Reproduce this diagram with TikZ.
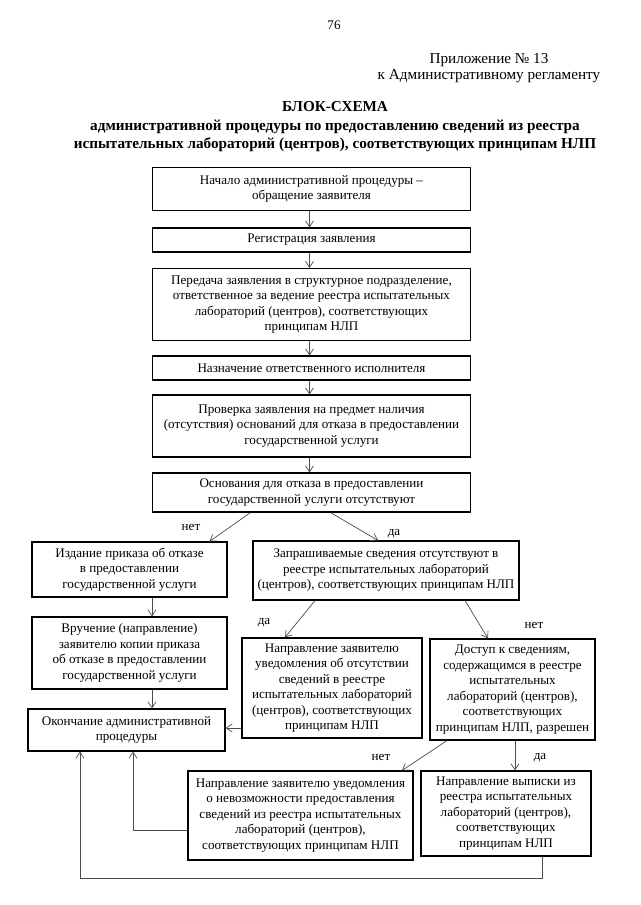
\documentclass[tikz,border=0pt]{standalone}
\usepackage{fontspec}
\setmainfont{Liberation Serif}
\usetikzlibrary{arrows.meta}
\newcommand\bxf{\fontsize{13.1}{15.5}\selectfont}
\newcommand\hdf{\fontsize{15.2}{16.5}\selectfont}
\newcommand\ttf{\fontsize{15.2}{18.5}\selectfont\bfseries}
\tikzset{
  box/.style={draw, line width=1.1pt, align=center, inner sep=0pt, font=\bxf},
  arr/.style={draw=black!70, line width=0.7pt, -{Straight Barb[length=6pt,width=8pt]}},
  lbl/.style={font=\bxf, inner sep=0pt},
}
\begin{document}
\begin{tikzpicture}[x=1pt,y=-1pt]
\useasboundingbox[fill=white] (0,0) rectangle (640,905);
% header
\node[font=\bxf] (pg) at (334,25) {76};
\node[font=\hdf, align=center] (app) at (489,68) {Приложение № 13\\к Административному регламенту};
\node[font=\ttf, align=center] (title) at (335,127) {БЛОК-СХЕМА\\административной процедуры по предоставлению сведений из реестра\\испытательных лабораторий (центров), соответствующих принципам НЛП};
% boxes
\node[box, minimum width=318, minimum height=43] (b1) at (311.5,189) {Начало административной процедуры –\\обращение заявителя};
\node[box, minimum width=318, minimum height=24] (b2) at (311.5,240) {Регистрация заявления};
\node[box, minimum width=318, minimum height=72] (b3) at (311.5,304.5) {Передача заявления в структурное подразделение,\\ответственное за ведение реестра испытательных\\лабораторий (центров), соответствующих\\принципам НЛП};
\node[box, minimum width=318, minimum height=24] (b4) at (311.5,368) {Назначение ответственного исполнителя};
\node[box, minimum width=318, minimum height=62] (b5) at (311.5,426) {Проверка заявления на предмет наличия\\(отсутствия) оснований для отказа в предоставлении\\государственной услуги};
\node[box, minimum width=318, minimum height=39] (b6) at (311.5,492.5) {Основания для отказа в предоставлении\\государственной услуги отсутствуют};
\node[box, minimum width=195, minimum height=55] (b7) at (129.5,569.5) {Издание приказа об отказе\\в предоставлении\\государственной услуги};
\node[box, minimum width=266, minimum height=59] (b8) at (386,570.5) {Запрашиваемые сведения отсутствуют в\\реестре испытательных лабораторий\\(центров), соответствующих принципам НЛП};
\node[box, minimum width=195, minimum height=72] (b9) at (129.5,653) {Вручение (направление)\\заявителю копии приказа\\об отказе в предоставлении\\государственной услуги};
\node[box, minimum width=197, minimum height=42] (b10) at (126.5,730) {Окончание административной\\процедуры};
\node[box, minimum width=180, minimum height=100] (b11) at (332,688) {Направление заявителю\\уведомления об отсутствии\\сведений в реестре\\испытательных лабораторий\\(центров), соответствующих\\принципам НЛП};
\node[box, minimum width=165, minimum height=101] (b12) at (512.5,689.5) {Доступ к сведениям,\\содержащимся в реестре\\испытательных\\лабораторий (центров),\\соответствующих\\принципам НЛП, разрешен};
\node[box, minimum width=225, minimum height=89] (b13) at (300.5,815.5) {Направление заявителю уведомления\\о невозможности предоставления\\сведений из реестра испытательных\\лабораторий (центров),\\соответствующих принципам НЛП};
\node[box, minimum width=170, minimum height=85] (b14) at (506,813.5) {Направление выписки из\\реестра испытательных\\лабораторий (центров),\\соответствующих\\принципам НЛП};
% main chain
\draw[arr] ([xshift=-2pt]b1.south) -- ([xshift=-2pt]b2.north);
\draw[arr] ([xshift=-2pt]b2.south) -- ([xshift=-2pt]b3.north);
\draw[arr] ([xshift=-2pt]b3.south) -- ([xshift=-2pt]b4.north);
\draw[arr] ([xshift=-2pt]b4.south) -- ([xshift=-2pt]b5.north);
\draw[arr] ([xshift=-2pt]b5.south) -- ([xshift=-2pt]b6.north);
% decision b6
\draw[arr] ([xshift=-61pt]b6.south) -- ([xshift=80pt]b7.north);
\draw[arr] ([xshift=19pt]b6.south) -- ([xshift=-8pt]b8.north);
\node[lbl] (l1) at (191,527) {нет};
\node[lbl] (l2) at (394,534) {да};
% left column
\draw[arr] ([xshift=22.5pt]b7.south) -- ([xshift=22.5pt]b9.north);
\draw[arr] ([xshift=22.5pt]b9.south) -- ([xshift=22.5pt]b9.south |- b10.north);
% decision b8
\draw[arr] ([xshift=-71pt]b8.south) -- ([xshift=-47pt]b11.north);
\draw[arr] ([xshift=79pt]b8.south) -- ([xshift=-24.5pt]b12.north);
\node[lbl] (l3) at (264,623) {да};
\node[lbl] (l4) at (534,625) {нет};
% b11 -> b10
\draw[arr] ([yshift=-40pt]b11.west) -- ([yshift=-40pt]b11.west -| b10.east);
% decision b12
\draw[arr] ([xshift=-65.5pt]b12.south) -- ([xshift=101.5pt]b13.north);
\draw[arr] ([xshift=2.5pt]b12.south) -- ([xshift=2.5pt]b12.south |- b14.north);
\node[lbl] (l5) at (381,757) {нет};
\node[lbl] (l6) at (540,758) {да};
% returns to b10
\draw[arr] ([yshift=-14.5pt]b13.west) -| ([xshift=6.5pt]b10.south);
\draw[arr] ([xshift=36pt]b14.south) -- ++(0,22) -| ([xshift=-46.5pt]b10.south);
\end{tikzpicture}
\end{document}
